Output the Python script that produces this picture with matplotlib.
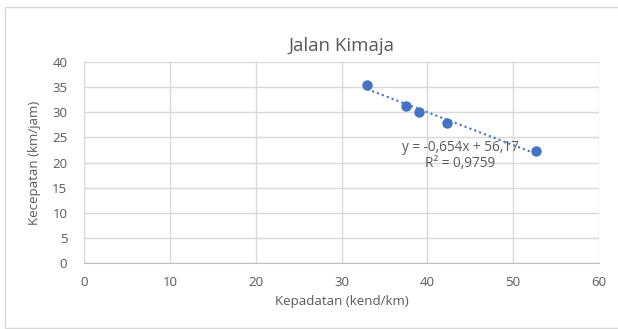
import matplotlib
matplotlib.use("Agg")
import matplotlib.pyplot as plt
import numpy as np
from matplotlib.patches import Rectangle

plt.rcParams['font.family'] = ['Open Sans', 'DejaVu Sans']

density = [33.0, 37.5, 39.0, 42.3, 52.7]
speed = [35.5, 31.3, 30.1, 27.8, 22.3]
slope = -0.654
intercept = 56.17
eq_text = "y = -0,654x + 56,17"
r2_text = "R² = 0,9759"
xticks = [0, 10, 20, 30, 40, 50, 60]
yticks = [0, 5, 10, 15, 20, 25, 30, 35, 40]

gray = '#595959'
blue = '#4472C4'

fig = plt.figure(figsize=(6.18, 3.29), dpi=100)
fig.patches.append(Rectangle((5/618, 1 - 328/329), 1.2, 1 - 7/329 - (1 - 328/329),
                             transform=fig.transFigure, fill=False,
                             edgecolor='#d9d9d9', linewidth=1.0))
ax = fig.add_axes([84/618, 66/329, 515/618, 201/329])
ax.set_xlim(0, 60)
ax.set_ylim(0, 40)
ax.set_xticks(xticks)
ax.set_yticks(yticks)
ax.grid(True, color='#d9d9d9', linewidth=1.0)
ax.set_axisbelow(True)
for s in ['top', 'right', 'left']:
    ax.spines[s].set_visible(False)
ax.spines['bottom'].set_color('#bfbfbf')
ax.tick_params(axis='x', length=0, colors=gray, labelsize=9.5, pad=9)
ax.tick_params(axis='y', length=0, colors=gray, labelsize=9.5, pad=12)

xs = np.array([min(density), max(density)])
ax.plot(xs, slope * xs + intercept, linestyle=(0, (1, 1.5)), color=blue, linewidth=1.5, zorder=2)
ax.scatter(density, speed, s=42, color=blue, zorder=3)

ax.text(43.8, 22.9, eq_text, color=gray, fontsize=9.8, ha='center', va='center')
ax.text(43.8, 19.9, r2_text, color=gray, fontsize=9.8, ha='center', va='center')

ax.set_title("Jalan Kimaja", color=gray, fontsize=13.5, pad=8)
ax.set_xlabel("Kepadatan (kend/km)", color=gray, fontsize=9.5, labelpad=5)
ax.set_ylabel("Kecepatan (km/jam)", color=gray, fontsize=9.5, labelpad=8)

fig.savefig("out.png", dpi=100)
